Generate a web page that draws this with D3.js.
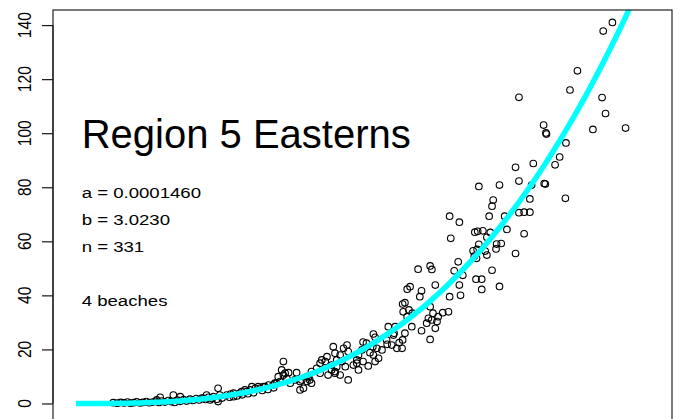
<!DOCTYPE html>
<html><head><meta charset="utf-8">
<script src="https://cdn.jsdelivr.net/npm/d3@7"></script>
<style>body{margin:0;background:#fff}svg{display:block}text{font-family:"Liberation Sans",Arial,Helvetica,sans-serif;fill:#000}</style>
</head><body><div id="chart"></div>
<script>
// ---- data ----
const titleText = "Region 5 Easterns";
const fitA = 0.0001460, fitB = 3.0230, nObs = 331, beaches = 4;
const infoLines = ["a = 0.0001460", "b = 3.0230", "n = 331", "", "4 beaches"];
const yTicks = [0, 20, 40, 60, 80, 100, 120, 140];
const xDomain = [0, 100];
const yDomain = [0, 140];
const length = [
93.6,92.0,87.5,86.2,91.8,92.4,90.2,95.9,81.6,82.0,82.1,85.5,84.4,83.6,81.7,81.9,85.4,76.7,79.8,70.3,
73.9,77.3,79.5,72.8,72.6,79.2,72.1,74.8,65.2,66.9,77.3,78.2,79.2,69.6,70.1,71.0,72.3,75.2,78.2,65.4,
71.7,70.3,73.4,74.2,69.3,70.0,71.4,71.7,73.3,76.7,69.5,69.9,66.7,66.0,67.5,72.6,69.8,70.8,66.9,73.9,
70.8,67.1,65.2,59.7,61.8,62.1,62.7,57.8,58.3,60.3,60.0,57.0,57.4,57.1,58.1,57.8,58.7,61.8,62.3,61.5,
62.1,63.2,64.0,65.0,63.0,62.7,61.2,58.6,60.3,61.8,57.4,57.0,56.4,56.9,56.0,54.5,55.4,54.2,54.3,55.1,
51.9,52.2,50.1,50.7,51.8,52.5,53.4,51.3,51.9,52.8,49.9,49.3,49.0,50.1,51.0,49.3,48.4,47.5,47.3,46.7,
47.5,46.1,44.9,45.2,45.5,46.4,47.0,44.6,45.2,46.1,55.5,55.7,52.2,49.0,42.9,43.5,43.8,45.5,44.0,42.6,
42.0,42.6,41.1,40.6,40.3,39.4,39.7,38.5,36.2,35.9,36.2,36.8,35.3,35.6,34.7,33.6,32.7,32.1,31.3,30.4,
29.5,28.9,37.4,38.2,41.1,39.1,36.5,37.1,39.1,40.3,40.8,44.6,45.2,24.8,30.7,31.8,33.0,34.4,35.0,22.8,
24.0,25.1,26.3,27.5,28.6,29.8,23.4,24.6,27.5,28.1,22.2,24.8,
6.5,7.2,7.8,8.4,9.0,9.5,10.1,10.6,11.2,11.7,12.3,12.8,13.4,13.9,14.5,15.0,15.5,16.1,16.6,17.2,
17.7,18.2,18.8,19.3,19.9,20.4,21.0,21.5,22.0,22.6,23.1,23.7,25.5,26.8,27.0,29.0,30.0,31.0,32.5,33.5,
34.5,14.1,18.2,17.0,14.7,77.3
];
const weight = [
141.0,137.8,123.1,116.0,113.2,107.3,101.4,101.9,103.0,100.1,99.7,96.4,91.2,88.3,81.4,81.2,75.9,87.4,88.8,80.3,
80.8,82.3,80.8,75.3,73.0,75.7,69.3,69.3,69.3,67.1,70.6,70.8,70.8,63.4,63.7,63.9,63.3,64.4,62.8,61.1,
61.5,58.9,59.0,59.2,56.5,57.0,56.4,54.9,57.2,55.5,54.5,53.7,52.4,49.1,47.4,49.3,46.0,46.0,43.8,43.3,
42.2,40.0,39.5,49.7,50.9,49.6,43.8,42.3,43.2,41.7,39.5,36.8,37.3,33.9,34.6,32.1,33.4,35.8,33.4,31.5,
30.9,32.1,33.6,33.9,30.3,27.8,29.7,28.4,26.9,23.7,26.0,23.5,22.5,20.4,20.4,28.4,25.3,23.5,21.9,21.6,
25.7,24.5,22.7,22.3,21.0,20.4,19.8,18.8,17.9,16.7,19.8,17.9,16.1,15.5,13.9,12.4,14.2,8.7,21.6,20.4,
19.2,17.9,21.0,18.6,16.1,15.5,13.6,14.2,11.8,10.5,26.0,28.4,15.5,14.9,16.1,15.5,17.3,13.6,10.5,14.9,
13.0,11.2,11.8,9.9,8.1,8.7,5.6,11.4,15.5,12.4,10.5,9.3,9.9,8.1,7.5,6.8,6.2,5.6,5.6,5.0,
5.0,4.4,7.5,8.7,7.5,5.0,11.2,11.4,8.1,9.9,8.7,12.4,11.2,5.6,6.2,6.2,6.2,6.8,7.5,3.1,
2.5,3.1,3.1,3.8,3.8,4.4,1.3,1.6,2.5,2.8,1.9,0.7,
0.3,0.1,0.4,0.2,0.5,0.1,0.3,0.6,0.2,0.4,0.7,0.3,0.5,0.8,0.4,0.9,0.5,1.1,0.7,0.4,
1.2,0.8,1.4,0.9,1.6,1.1,1.8,1.3,2.0,1.5,2.3,1.8,2.0,2.3,3.5,3.2,3.6,4.0,4.8,5.2,
5.8,1.3,2.5,3.1,2.3,113.3
];

// ---- layout ----
const W = 679, H = 419;
const plot = {left: 53, top: 10, right: 672, bottom: 418.6};
const svg = d3.select("#chart").append("svg").attr("width", W).attr("height", H);

// R-style 4% padding
function padded(d){const r=d[1]-d[0];return [d[0]-0.04*r, d[1]+0.04*r];}
const x = d3.scaleLinear().domain(padded(xDomain)).range([plot.left, plot.right]);
const y = d3.scaleLinear().domain(padded(yDomain)).range([plot.bottom, plot.top]);

svg.append("defs").append("clipPath").attr("id","clip")
  .append("rect").attr("x",plot.left).attr("y",plot.top)
  .attr("width",plot.right-plot.left).attr("height",plot.bottom-plot.top+5);

// points
const pts = length.map((v,i)=>({x:v,y:weight[i]}));
svg.append("g").selectAll("circle").data(pts).join("circle")
  .attr("cx",d=>x(d.x)).attr("cy",d=>y(d.y)).attr("r",3.3)
  .attr("fill","none").attr("stroke","#000").attr("stroke-width",1.1);

// fitted curve
const curveX = d3.range(0, 100.01, 1);
const line = d3.line().x(d=>x(d)).y(d=>y(fitA*Math.pow(d,fitB)));
svg.append("path").datum(curveX).attr("d",line).attr("clip-path","url(#clip)")
  .attr("fill","none").attr("stroke","#00FFFF").attr("stroke-width",5.5)
  .attr("stroke-linejoin","round");

// y axis
const yAxis = d3.axisLeft(y).tickValues(yTicks).tickSize(11).tickFormat(d3.format("d"));
const ga = svg.append("g").attr("transform",`translate(${plot.left},0)`).call(yAxis);
ga.select(".domain").remove();
ga.selectAll(".tick line").attr("stroke","#000").attr("stroke-width",1.1);
ga.selectAll(".tick text").remove();
ga.append("line").attr("x1",0).attr("x2",0).attr("y1",y(0)).attr("y2",y(140)).attr("stroke","#000").attr("stroke-width",1.1);
svg.append("g").selectAll("text").data(yTicks).join("text")
  .attr("transform",d=>`translate(31,${y(d)}) scale(1.22,1) rotate(-90)`)
  .attr("text-anchor","middle").style("font-size","15.6px").text(d=>d);

// box
svg.append("rect").attr("x",plot.left).attr("y",plot.top)
  .attr("width",plot.right-plot.left).attr("height",plot.bottom-plot.top+3)
  .attr("fill","none").attr("stroke","#222").attr("stroke-width",1.2);

// title and annotations
svg.append("text").attr("transform",`translate(${x(1)},${y(94.5)})`)
  .style("font-size","40px").text(titleText);
const infoY = [75, 65, 55, 45, 35];
svg.append("g").selectAll("text").data(infoLines).join("text")
  .attr("transform",(d,i)=>`translate(${x(1)},${y(infoY[i]) - 3}) scale(1.2,1)`)
  .style("font-size","15.5px").text(d=>d);
</script></body></html>
